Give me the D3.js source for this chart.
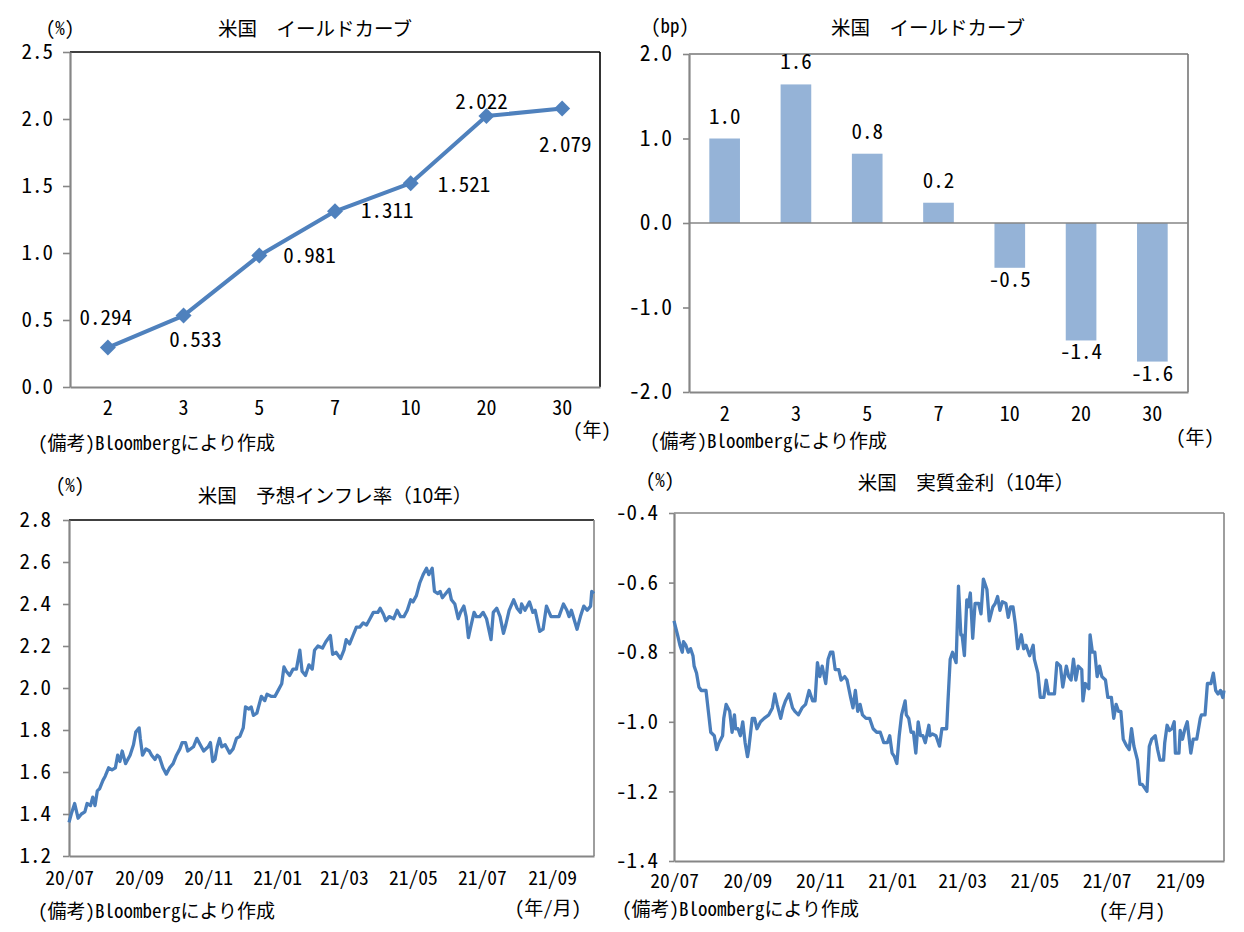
<!DOCTYPE html>
<html><head><meta charset="utf-8">
<script src="https://cdn.jsdelivr.net/npm/d3@7"></script>
<style>
body{margin:0;background:#fff;}
svg text{font-family:"Noto Sans CJK JP","Noto Sans CJK SC",sans-serif;font-feature-settings:"hwid" 1;fill:#000;}
svg text.title{font-feature-settings:normal;}
</style></head><body>
<svg id="c" width="1244" height="932"></svg>
<script>
// ---------- DATA ----------
const tenors = ["2","3","5","7","10","20","30"];
const yieldValues = [0.294,0.533,0.981,1.311,1.521,2.022,2.079];
const changeValues = [1.0,1.64,0.82,0.24,-0.53,-1.39,-1.64];
const yieldTicks = [0,0.5,1.0,1.5,2.0,2.5];
const changeTicks = [-2,-1,0,1,2];
const inflTicks = [1.2,1.4,1.6,1.8,2.0,2.2,2.4,2.6,2.8];
const realTicks = [-1.4,-1.2,-1.0,-0.8,-0.6,-0.4];
const monthTicks = ["2020-07-01","2020-09-01","2020-11-01","2021-01-01","2021-03-01","2021-05-01","2021-07-01","2021-09-01"];
const dateRange = ["2020-07-01","2021-10-08"];

const inflation = [["2020-07-01",1.36],["2020-07-03",1.40],["2020-07-06",1.45],["2020-07-09",1.38],["2020-07-12",1.40],["2020-07-15",1.41],["2020-07-17",1.45],["2020-07-20",1.44],["2020-07-22",1.48],["2020-07-24",1.44],["2020-07-26",1.51],["2020-07-28",1.52],["2020-07-31",1.56],["2020-08-02",1.58],["2020-08-05",1.62],["2020-08-08",1.61],["2020-08-11",1.62],["2020-08-13",1.68],["2020-08-15",1.65],["2020-08-17",1.70],["2020-08-20",1.64],["2020-08-24",1.68],["2020-08-27",1.73],["2020-08-29",1.79],["2020-09-01",1.81],["2020-09-02",1.76],["2020-09-04",1.68],["2020-09-07",1.71],["2020-09-10",1.70],["2020-09-12",1.68],["2020-09-15",1.66],["2020-09-17",1.68],["2020-09-19",1.67],["2020-09-22",1.62],["2020-09-25",1.59],["2020-09-28",1.62],["2020-10-01",1.64],["2020-10-04",1.68],["2020-10-07",1.71],["2020-10-09",1.74],["2020-10-12",1.74],["2020-10-14",1.70],["2020-10-19",1.72],["2020-10-22",1.76],["2020-10-25",1.73],["2020-10-28",1.70],["2020-11-01",1.72],["2020-11-03",1.74],["2020-11-05",1.65],["2020-11-07",1.66],["2020-11-09",1.72],["2020-11-11",1.76],["2020-11-13",1.72],["2020-11-16",1.73],["2020-11-20",1.69],["2020-11-23",1.71],["2020-11-26",1.76],["2020-11-29",1.77],["2020-12-02",1.81],["2020-12-04",1.91],["2020-12-07",1.90],["2020-12-09",1.91],["2020-12-11",1.87],["2020-12-14",1.88],["2020-12-18",1.96],["2020-12-21",1.94],["2020-12-23",1.97],["2020-12-27",1.96],["2020-12-30",1.96],["2021-01-02",1.99],["2021-01-05",2.02],["2021-01-07",2.10],["2021-01-09",2.08],["2021-01-12",2.06],["2021-01-15",2.09],["2021-01-18",2.09],["2021-01-21",2.18],["2021-01-23",2.08],["2021-01-26",2.06],["2021-01-29",2.11],["2021-02-01",2.09],["2021-02-03",2.18],["2021-02-06",2.20],["2021-02-10",2.19],["2021-02-13",2.22],["2021-02-17",2.25],["2021-02-19",2.16],["2021-02-22",2.17],["2021-02-26",2.14],["2021-03-01",2.18],["2021-03-03",2.23],["2021-03-06",2.21],["2021-03-09",2.25],["2021-03-12",2.29],["2021-03-15",2.29],["2021-03-18",2.31],["2021-03-21",2.30],["2021-03-24",2.33],["2021-03-27",2.36],["2021-03-31",2.36],["2021-04-02",2.38],["2021-04-05",2.35],["2021-04-07",2.32],["2021-04-10",2.34],["2021-04-14",2.33],["2021-04-17",2.37],["2021-04-20",2.34],["2021-04-23",2.34],["2021-04-26",2.37],["2021-04-29",2.42],["2021-05-01",2.41],["2021-05-04",2.44],["2021-05-07",2.50],["2021-05-10",2.54],["2021-05-13",2.57],["2021-05-15",2.54],["2021-05-18",2.57],["2021-05-20",2.46],["2021-05-23",2.45],["2021-05-25",2.46],["2021-05-27",2.43],["2021-05-30",2.45],["2021-06-02",2.47],["2021-06-04",2.42],["2021-06-07",2.40],["2021-06-10",2.33],["2021-06-12",2.36],["2021-06-15",2.39],["2021-06-17",2.34],["2021-06-19",2.24],["2021-06-21",2.29],["2021-06-24",2.36],["2021-06-26",2.34],["2021-06-29",2.34],["2021-07-02",2.36],["2021-07-05",2.33],["2021-07-09",2.23],["2021-07-11",2.36],["2021-07-14",2.38],["2021-07-17",2.34],["2021-07-20",2.26],["2021-07-22",2.30],["2021-07-25",2.37],["2021-07-29",2.42],["2021-08-01",2.38],["2021-08-04",2.36],["2021-08-05",2.40],["2021-08-08",2.37],["2021-08-12",2.41],["2021-08-15",2.36],["2021-08-17",2.37],["2021-08-21",2.27],["2021-08-24",2.28],["2021-08-27",2.39],["2021-08-31",2.34],["2021-09-03",2.34],["2021-09-07",2.34],["2021-09-11",2.40],["2021-09-14",2.37],["2021-09-16",2.34],["2021-09-18",2.37],["2021-09-23",2.28],["2021-09-26",2.34],["2021-09-29",2.39],["2021-10-02",2.37],["2021-10-05",2.39],["2021-10-06",2.46],["2021-10-08",2.45]];

const realRate = [["2020-07-01",-0.71],["2020-07-04",-0.75],["2020-07-06",-0.78],["2020-07-08",-0.80],["2020-07-09",-0.77],["2020-07-11",-0.78],["2020-07-13",-0.80],["2020-07-15",-0.79],["2020-07-17",-0.81],["2020-07-18",-0.84],["2020-07-20",-0.86],["2020-07-22",-0.90],["2020-07-24",-0.91],["2020-07-26",-0.91],["2020-07-28",-0.91],["2020-07-30",-0.97],["2020-08-01",-1.03],["2020-08-04",-1.04],["2020-08-06",-1.08],["2020-08-08",-1.06],["2020-08-11",-1.04],["2020-08-12",-0.99],["2020-08-14",-0.95],["2020-08-17",-0.97],["2020-08-19",-1.03],["2020-08-21",-0.98],["2020-08-22",-1.02],["2020-08-24",-1.02],["2020-08-26",-1.04],["2020-08-28",-1.00],["2020-08-30",-1.06],["2020-09-01",-1.10],["2020-09-02",-1.08],["2020-09-05",-0.99],["2020-09-07",-0.99],["2020-09-09",-1.02],["2020-09-12",-1.00],["2020-09-15",-0.99],["2020-09-19",-0.98],["2020-09-22",-0.96],["2020-09-24",-0.92],["2020-09-26",-0.95],["2020-09-29",-0.99],["2020-10-01",-0.96],["2020-10-03",-0.94],["2020-10-06",-0.92],["2020-10-09",-0.96],["2020-10-11",-0.97],["2020-10-14",-0.98],["2020-10-17",-0.96],["2020-10-20",-0.95],["2020-10-23",-0.91],["2020-10-26",-0.94],["2020-10-28",-0.94],["2020-10-30",-0.83],["2020-11-01",-0.87],["2020-11-03",-0.84],["2020-11-06",-0.89],["2020-11-08",-0.82],["2020-11-10",-0.80],["2020-11-12",-0.80],["2020-11-14",-0.85],["2020-11-17",-0.85],["2020-11-19",-0.88],["2020-11-22",-0.87],["2020-11-24",-0.88],["2020-11-27",-0.93],["2020-11-29",-0.96],["2020-12-01",-0.91],["2020-12-03",-0.97],["2020-12-05",-0.95],["2020-12-07",-0.98],["2020-12-10",-0.99],["2020-12-13",-0.99],["2020-12-16",-1.02],["2020-12-19",-1.03],["2020-12-22",-1.03],["2020-12-25",-1.06],["2020-12-28",-1.06],["2020-12-30",-1.04],["2021-01-01",-1.09],["2021-01-03",-1.10],["2021-01-05",-1.12],["2021-01-07",-1.04],["2021-01-09",-0.98],["2021-01-12",-0.94],["2021-01-13",-0.98],["2021-01-15",-0.99],["2021-01-17",-1.03],["2021-01-19",-1.03],["2021-01-21",-1.09],["2021-01-23",-1.00],["2021-01-25",-1.04],["2021-01-27",-1.04],["2021-01-29",-1.06],["2021-02-01",-1.01],["2021-02-02",-1.04],["2021-02-04",-1.035],["2021-02-07",-1.04],["2021-02-10",-1.07],["2021-02-12",-1.02],["2021-02-16",-1.02],["2021-02-17",-0.95],["2021-02-19",-0.82],["2021-02-21",-0.80],["2021-02-24",-0.83],["2021-02-26",-0.61],["2021-02-28",-0.75],["2021-03-01",-0.75],["2021-03-03",-0.81],["2021-03-05",-0.65],["2021-03-06",-0.67],["2021-03-08",-0.63],["2021-03-10",-0.76],["2021-03-12",-0.66],["2021-03-15",-0.66],["2021-03-17",-0.69],["2021-03-19",-0.59],["2021-03-22",-0.62],["2021-03-24",-0.71],["2021-03-27",-0.67],["2021-03-29",-0.66],["2021-03-31",-0.64],["2021-04-02",-0.68],["2021-04-04",-0.655],["2021-04-07",-0.66],["2021-04-09",-0.70],["2021-04-11",-0.67],["2021-04-13",-0.67],["2021-04-15",-0.72],["2021-04-17",-0.79],["2021-04-20",-0.75],["2021-04-22",-0.79],["2021-04-24",-0.78],["2021-04-27",-0.81],["2021-04-30",-0.78],["2021-05-01",-0.82],["2021-05-04",-0.86],["2021-05-06",-0.93],["2021-05-09",-0.93],["2021-05-11",-0.88],["2021-05-13",-0.92],["2021-05-16",-0.92],["2021-05-18",-0.92],["2021-05-20",-0.83],["2021-05-23",-0.84],["2021-05-25",-0.90],["2021-05-28",-0.84],["2021-05-30",-0.87],["2021-06-01",-0.88],["2021-06-03",-0.82],["2021-06-05",-0.88],["2021-06-07",-0.84],["2021-06-10",-0.85],["2021-06-11",-0.94],["2021-06-13",-0.89],["2021-06-16",-0.905],["2021-06-17",-0.75],["2021-06-19",-0.80],["2021-06-21",-0.80],["2021-06-23",-0.87],["2021-06-25",-0.84],["2021-06-27",-0.87],["2021-06-30",-0.88],["2021-07-02",-0.93],["2021-07-05",-0.93],["2021-07-07",-0.99],["2021-07-09",-0.95],["2021-07-11",-0.97],["2021-07-13",-0.97],["2021-07-15",-1.05],["2021-07-18",-1.07],["2021-07-20",-1.08],["2021-07-22",-1.02],["2021-07-24",-1.07],["2021-07-27",-1.11],["2021-07-29",-1.18],["2021-07-31",-1.18],["2021-08-02",-1.19],["2021-08-04",-1.20],["2021-08-06",-1.07],["2021-08-08",-1.05],["2021-08-11",-1.04],["2021-08-13",-1.08],["2021-08-15",-1.11],["2021-08-18",-1.11],["2021-08-19",-1.06],["2021-08-21",-1.01],["2021-08-23",-1.025],["2021-08-25",-1.02],["2021-08-27",-1.00],["2021-08-28",-1.09],["2021-08-31",-1.09],["2021-09-01",-1.025],["2021-09-03",-1.05],["2021-09-05",-1.02],["2021-09-07",-1.00],["2021-09-10",-1.09],["2021-09-12",-1.05],["2021-09-15",-1.05],["2021-09-18",-0.99],["2021-09-19",-0.98],["2021-09-22",-0.98],["2021-09-24",-0.89],["2021-09-27",-0.89],["2021-09-29",-0.86],["2021-10-01",-0.91],["2021-10-03",-0.92],["2021-10-05",-0.91],["2021-10-07",-0.93],["2021-10-08",-0.91]];

// ---------- STYLE ----------
const AXIS = "#868686";
const LINE = "#4a7ebb";
const BAR = "#95b3d7";
const loc = d3.formatLocale({decimal:".",thousands:",",grouping:[3],currency:["",""],minus:"-"});
const f1 = loc.format(".1f"), f3 = loc.format(".3f");
const parse = d3.timeParse("%Y-%m-%d");
const fmtMonth = d3.timeFormat("%y/%m");
const svg = d3.select("#c");

function txt(x,y,s,size,anchor,cls){
  const t = svg.append("text").attr("x",x).attr("y",y).attr("font-size",size)
    .attr("text-anchor",anchor||"start").text(s);
  if(cls) t.attr("class",cls);
  return t;
}
function frame(p,colTop,colRight){
  svg.append("line").attr("x1",p.l).attr("x2",p.r).attr("y1",p.t).attr("y2",p.t)
    .attr("stroke",colTop).attr("stroke-width",1.6);
  svg.append("line").attr("x1",p.r).attr("x2",p.r).attr("y1",p.t).attr("y2",p.b)
    .attr("stroke",colRight).attr("stroke-width",1.6);
}
function yAxis(p,y,ticks,tickLen,pad,size){
  const g = svg.append("g").attr("transform",`translate(${p.l},0)`)
    .call(d3.axisLeft(y).tickValues(ticks).tickFormat(f1).tickSize(tickLen).tickSizeOuter(0).tickPadding(pad));
  g.select(".domain").attr("stroke",AXIS).attr("stroke-width",2.2);
  g.selectAll(".tick line").attr("stroke",AXIS).attr("stroke-width",1.6);
  g.selectAll(".tick text").attr("font-size",size).attr("fill","#000");
  g.attr("font-family",null);
}
function xAxis(p,x,ticks,fmt,off,size){
  const ax = d3.axisBottom(x).tickSize(0).tickSizeOuter(0);
  if(ticks) ax.tickValues(ticks);
  if(fmt) ax.tickFormat(fmt);
  const g = svg.append("g").attr("transform",`translate(0,${p.b})`).call(ax);
  g.select(".domain").attr("stroke",AXIS).attr("stroke-width",2.2);
  g.selectAll(".tick text").attr("y",off).attr("dy",null).attr("font-size",size).attr("fill","#000");
  g.attr("font-family",null);
}

// ---------- PANEL 1 : yield curve line ----------
{
  const p = {l:70,t:52,r:600,b:387};
  const x = d3.scaleBand().domain(tenors).range([p.l,p.r]);
  const y = d3.scaleLinear().domain([0,2.5]).range([p.b,p.t]);
  frame(p,"#000","#000");
  yAxis(p,y,yieldTicks,7,10,21);
  xAxis(p,x,null,null,28,20);
  const cx = (d,i)=>x(tenors[i])+x.bandwidth()/2;
  svg.append("path").datum(yieldValues)
    .attr("d",d3.line().x(cx).y(d=>y(d)))
    .attr("fill","none").attr("stroke","#4f81bd").attr("stroke-width",4).attr("stroke-linejoin","round");
  svg.selectAll(".dia").data(yieldValues).join("path")
    .attr("transform",(d,i)=>`translate(${cx(d,i)},${y(d)})`)
    .attr("d","M0,-8L8,0L0,8L-8,0Z").attr("fill","#4f81bd");
  const lab = [[-2,-23,"middle"],[12,31,"middle"],[24,7,"start"],[26,7,"start"],[27,9,"start"],[-5,-7,"middle"],[3,44,"middle"]];
  yieldValues.forEach((v,i)=>{
    txt(cx(v,i)+lab[i][0], y(v)+lab[i][1], f3(v), 21, lab[i][2]);
  });
  txt(315,36,"米国　イールドカーブ",19.5,"middle","title");
  txt(60,35,"(%)",19,"middle");
  txt(592,437,"(年)",19,"middle");
  txt(38,450,"(備考)Bloombergにより作成",19,"start");
}

// ---------- PANEL 2 : bar chart ----------
{
  const p = {l:689,t:54,r:1188,b:392};
  const x = d3.scaleBand().domain(tenors).range([p.l,p.r]).paddingInner(0.57).paddingOuter(0.285);
  const y = d3.scaleLinear().domain([-2,2]).range([p.b,p.t]);
  frame(p,"#767676","#767676");
  svg.selectAll(".bar").data(changeValues).join("rect")
    .attr("x",(d,i)=>x(tenors[i])).attr("width",x.bandwidth())
    .attr("y",d=>y(Math.max(0,d))).attr("height",d=>Math.abs(y(d)-y(0)))
    .attr("fill",BAR);
  svg.append("line").attr("x1",p.l).attr("x2",p.r).attr("y1",y(0)).attr("y2",y(0))
    .attr("stroke",AXIS).attr("stroke-width",1.6);
  yAxis(p,y,changeTicks,6,11,21.5);
  xAxis(p,x,null,null,29,20);
  changeValues.forEach((v,i)=>{
    const cx = x(tenors[i])+x.bandwidth()/2;
    txt(cx, v>=0 ? y(v)-15 : y(v)+19, f1(v), 21, "middle");
  });
  txt(928,35,"米国　イールドカーブ",19.5,"middle","title");
  txt(670,33,"(bp)",19,"middle");
  txt(1195,444,"(年)",19,"middle");
  txt(650,448,"(備考)Bloombergにより作成",19,"start");
}

// ---------- PANEL 3 : breakeven inflation ----------
{
  const p = {l:69,t:520,r:594,b:856};
  const x = d3.scaleTime().domain(dateRange.map(parse)).range([p.l,p.r]);
  const y = d3.scaleLinear().domain([1.2,2.8]).range([p.b,p.t]);
  frame(p,"#000",AXIS);
  yAxis(p,y,inflTicks,6,12,21);
  xAxis(p,x,monthTicks.map(parse),fmtMonth,29,19.5);
  svg.append("path").datum(inflation)
    .attr("d",d3.line().x(d=>x(parse(d[0]))).y(d=>y(d[1])))
    .attr("fill","none").attr("stroke",LINE).attr("stroke-width",3.3).attr("stroke-linejoin","round");
  txt(335,503,"米国　予想インフレ率（10年）",19.5,"middle","title");
  txt(70,492,"(%)",19,"middle");
  txt(548,915,"(年/月)",19,"middle");
  txt(38,918,"(備考)Bloombergにより作成",19,"start");
}

// ---------- PANEL 4 : real rate ----------
{
  const p = {l:674,t:513,r:1224,b:861};
  const x = d3.scaleTime().domain(dateRange.map(parse)).range([p.l,p.r]);
  const y = d3.scaleLinear().domain([-1.4,-0.4]).range([p.b,p.t]);
  frame(p,AXIS,AXIS);
  yAxis(p,y,realTicks,5,11,21);
  xAxis(p,x,monthTicks.map(parse),fmtMonth,27,19.5);
  svg.append("path").datum(realRate)
    .attr("d",d3.line().x(d=>x(parse(d[0]))).y(d=>y(d[1])))
    .attr("fill","none").attr("stroke",LINE).attr("stroke-width",3.3).attr("stroke-linejoin","round");
  txt(966,490,"米国　実質金利（10年）",19.5,"middle","title");
  txt(660,487,"(%)",19,"middle");
  txt(1132,918,"(年/月)",19,"middle");
  txt(622,916,"(備考)Bloombergにより作成",19,"start");
}
</script></body></html>
